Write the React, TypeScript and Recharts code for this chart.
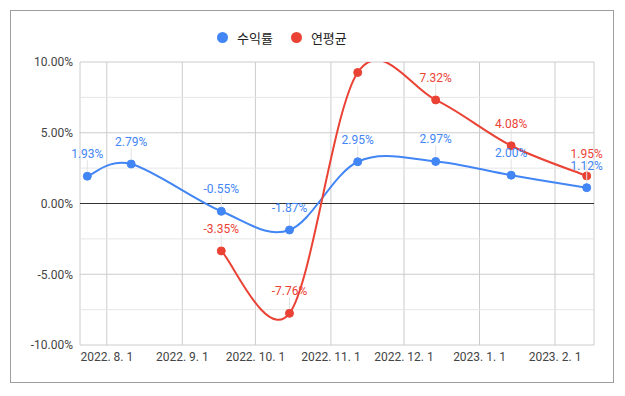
import React from 'react';
import {
  LineChart,
  Line,
  XAxis,
  YAxis,
  CartesianGrid,
  ReferenceLine,
  Legend,
  LabelList,
} from 'recharts';

// data
const DATES = [
  '2022-07-24', '2022-08-11', '2022-09-17', '2022-10-15',
  '2022-11-12', '2022-12-14', '2023-01-14', '2023-02-14',
];
const RETURNS = [1.93, 2.79, -0.55, -1.87, 2.95, 2.97, 2.0, 1.12];
const ANNUAL = [null, null, -3.35, -7.76, 9.26, 7.32, 4.08, 1.95];

const X_TICK_DATES = [
  '2022-08-01', '2022-09-01', '2022-10-01', '2022-11-01',
  '2022-12-01', '2023-01-01', '2023-02-01',
];
const X_TICK_LABELS = [
  '2022. 8. 1', '2022. 9. 1', '2022. 10. 1', '2022. 11. 1',
  '2022. 12. 1', '2023. 1. 1', '2023. 2. 1',
];
const X_DOMAIN = ['2022-07-21', '2023-02-17'];
const Y_TICKS = [-10, -5, 0, 5, 10];
const Y_GRID = [-10, -7.5, -5, -2.5, 0, 2.5, 5, 7.5, 10];

const BLUE = '#4285F4';
const RED = '#EA4335';
const FONT = 'Roboto, "Noto Sans CJK KR", sans-serif';
const PLOT_TOP = 62;

const toDay = (s: string) => Date.parse(s + 'T00:00:00Z') / 86400000;

const data = DATES.map((d, i) => ({
  t: toDay(d),
  returns: RETURNS[i],
  annual: ANNUAL[i],
}));

const tickDays = X_TICK_DATES.map(toDay);
const tickLabel = (v: number) => X_TICK_LABELS[tickDays.indexOf(v)] ?? '';

// catmull-rom style curve, overshoots like the sheets "smooth" line
const smoothCurve = (context: any) => {
  let pts: [number, number][] = [];
  return {
    areaStart() {},
    areaEnd() {},
    lineStart() {
      pts = [];
    },
    lineEnd() {
      if (!pts.length) return;
      context.moveTo(pts[0][0], pts[0][1]);
      for (let i = 0; i < pts.length - 1; i++) {
        const p0 = pts[i - 1] || pts[i];
        const p1 = pts[i];
        const p2 = pts[i + 1];
        const p3 = pts[i + 2] || p2;
        context.bezierCurveTo(
          p1[0] + (p2[0] - p0[0]) / 6,
          p1[1] + (p2[1] - p0[1]) / 6,
          p2[0] - (p3[0] - p1[0]) / 6,
          p2[1] - (p3[1] - p1[1]) / 6,
          p2[0],
          p2[1]
        );
      }
    },
    point(x: number, y: number) {
      pts.push([+x, +y]);
    },
  };
};

const PointLabel = (props: any) => {
  const { value, color, viewBox } = props;
  const x = props.x ?? viewBox?.x;
  const y = props.y ?? viewBox?.y;
  if (value == null || x == null || y == null) return null;
  // sheets drops annotations that would poke out of the plot
  if (y - 29 < PLOT_TOP) return null;
  return (
    <g>
      <line x1={x} x2={x} y1={y - 16} y2={y - 5} stroke="#e3e3e3" strokeWidth={1} />
      <text
        x={x}
        y={y - 22}
        textAnchor="middle"
        dominantBaseline="central"
        fill={color}
        fontSize={12}
        fontFamily={FONT}
      >
        {Number(value).toFixed(2)}%
      </text>
    </g>
  );
};

const LegendContent = ({ payload }: any) => (
  <div style={{ display: 'flex', alignItems: 'center', fontSize: 13, color: '#222', fontFamily: FONT }}>
    {(payload || []).map((entry: any) => (
      <div key={entry.value} style={{ display: 'flex', alignItems: 'center', marginRight: 18 }}>
        <span
          style={{
            width: 11,
            height: 11,
            borderRadius: '50%',
            background: entry.color,
            display: 'inline-block',
            marginRight: 9,
          }}
        />
        <span>{entry.value}</span>
      </div>
    ))}
  </div>
);

const gridColor = (v: number) => (v === 0 ? '#333' : v % 5 === 0 ? '#cccccc' : '#e6e6e6');

export default function App() {
  return (
    <div style={{ position: 'absolute', left: 0, top: 0, width: 625, height: 396, background: '#fff', fontFamily: FONT }}>
      <div
        style={{
          position: 'absolute',
          left: 10,
          top: 10,
          width: 604,
          height: 373,
          boxSizing: 'border-box',
          border: '1px solid #9e9e9e',
        }}
      />
      <div style={{ position: 'absolute', left: 0, top: 0 }}>
        <LineChart width={625} height={396} data={data} margin={{ top: PLOT_TOP, right: 31, bottom: 0, left: 0 }}>
          <CartesianGrid horizontal={false} stroke="#cccccc" />
          {Y_GRID.map((v) => (
            <ReferenceLine key={v} y={v} stroke={gridColor(v)} strokeWidth={1} />
          ))}
          <XAxis
            dataKey="t"
            type="number"
            domain={X_DOMAIN.map(toDay)}
            ticks={tickDays}
            tickFormatter={tickLabel}
            height={51}
            axisLine={false}
            tickLine={false}
            tickMargin={1}
            interval={0}
            tick={{ fontSize: 12, fill: '#444', fontFamily: FONT }}
          />
          <YAxis
            type="number"
            domain={[-10, 10]}
            allowDataOverflow
            ticks={Y_TICKS}
            tickFormatter={(v) => `${Number(v).toFixed(2)}%`}
            width={80}
            axisLine={false}
            tickLine={false}
            tickMargin={1}
            tick={{ fontSize: 12, fill: '#444', fontFamily: FONT }}
          />
          <Legend
            layout="horizontal"
            verticalAlign="middle"
            content={<LegendContent />}
            wrapperStyle={{ position: 'absolute', top: 28, left: 217, width: 'auto', height: 16 }}
          />
          <Line
            name="수익률"
            dataKey="returns"
            type={smoothCurve as any}
            stroke={BLUE}
            strokeWidth={2}
            dot={{ r: 4, fill: BLUE, stroke: BLUE, strokeWidth: 1, clipDot: false }}
            activeDot={false}
            isAnimationActive={false}
          >
            <LabelList dataKey="returns" content={(p: any) => <PointLabel {...p} color={BLUE} />} />
          </Line>
          <Line
            name="연평균"
            dataKey="annual"
            type={smoothCurve as any}
            stroke={RED}
            strokeWidth={2}
            dot={{ r: 4, fill: RED, stroke: RED, strokeWidth: 1, clipDot: false }}
            activeDot={false}
            isAnimationActive={false}
          >
            <LabelList dataKey="annual" content={(p: any) => <PointLabel {...p} color={RED} />} />
          </Line>
        </LineChart>
      </div>
    </div>
  );
}
